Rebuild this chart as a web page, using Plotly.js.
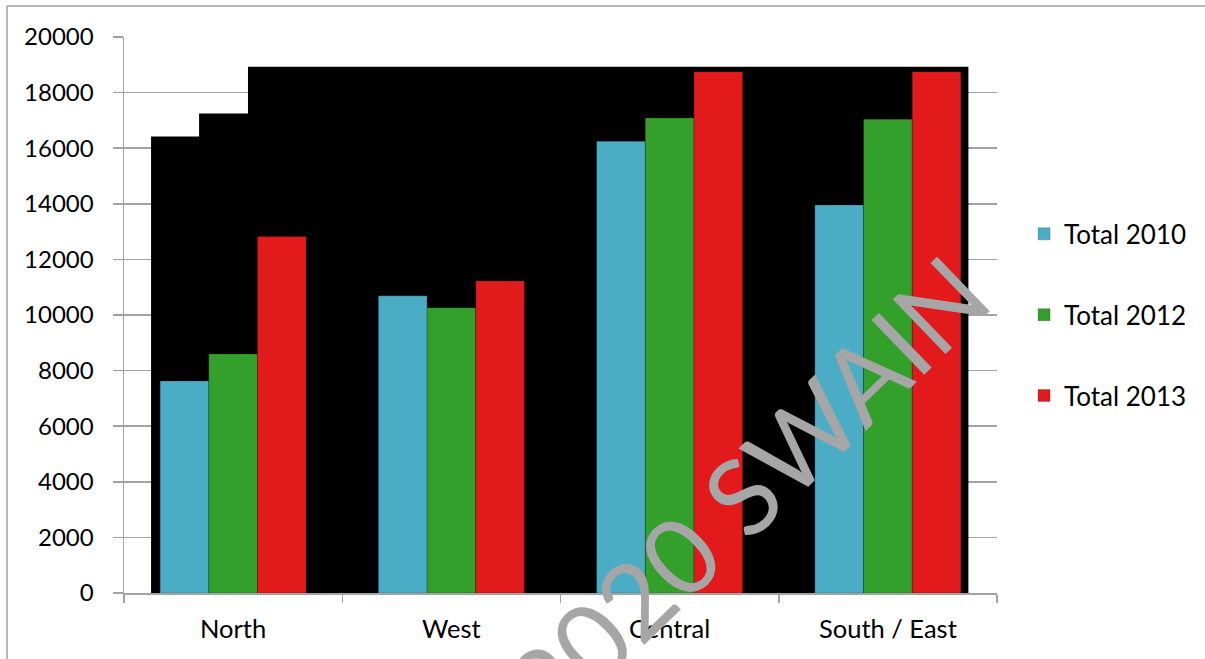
<!DOCTYPE html>
<html>
<head>
<meta charset="utf-8">
<script src="https://cdn.plot.ly/plotly-3.0.1.min.js"></script>
<style>
  html, body { margin: 0; padding: 0; background: #fff; }
  #chart { width: 1205px; height: 659px; }
</style>
</head>
<body>
<div id="chart"></div>
<script>
// Regions and yearly totals
const regions = ['North', 'West', 'Central', 'South / East'];
const total2010 = [7630, 10690, 16250, 13960];
const total2012 = [8600, 10260, 17090, 17040];
const total2013 = [12820, 11220, 18750, 18750];
const seriesNames = ['Total 2010', 'Total 2012', 'Total 2013'];
const seriesColors = ['#4bacc6', '#33a02c', '#e31a1c'];

// Stepped black backdrop behind the bars (edges in region-index units)
const backdropEdges = [-0.376, -0.156, 0.068, 3.369];
const backdropLevels = [16420, 17250, 18930, 18930];

const yTicks = [0, 2000, 4000, 6000, 8000, 10000, 12000, 14000, 16000, 18000, 20000];

const positions = regions.map((_, i) => i);
const boundaries = regions.map((_, i) => i - 0.5).concat([regions.length - 0.5]);
const xRange = [-0.5, regions.length - 0.5];
const yRange = [0, 20000];

const FONT = 'Lato, "Open Sans", sans-serif';
const GRID = '#a3a3a3';

// backdrop sits on the base axes, bars on an overlaid pair so they draw on top
const backdrop = {
  type: 'scatter',
  mode: 'lines',
  x: backdropEdges,
  y: backdropLevels,
  line: { shape: 'hv', width: 0, color: '#000' },
  fill: 'tozeroy',
  fillcolor: '#000',
  showlegend: false,
  hoverinfo: 'skip'
};

const values = [total2010, total2012, total2013];
const bars = values.map((vals, k) => ({
  type: 'bar',
  name: seriesNames[k],
  x: positions,
  y: vals,
  xaxis: 'x2',
  yaxis: 'y2',
  marker: { color: seriesColors[k], line: { color: 'rgba(0,0,0,0.25)', width: 0.8 } },
  legendgroup: 'g' + k
}));

const layout = {
  width: 1205,
  height: 659,
  margin: { l: 124, r: 208, t: 37, b: 66, autoexpand: false },
  paper_bgcolor: '#fff',
  plot_bgcolor: '#fff',
  font: { family: FONT, size: 24, color: '#000' },
  barmode: 'group',
  bargap: 0.331,
  bargroupgap: 0,
  showlegend: true,
  legend: {
    x: 1.031, xanchor: 'left',
    y: 0.688, yanchor: 'top',
    font: { family: FONT, size: 26, color: '#000' },
    traceorder: 'grouped',
    tracegroupgap: 44,
    bgcolor: 'rgba(0,0,0,0)'
  },
  xaxis: {
    type: 'linear',
    range: xRange,
    tickmode: 'array',
    tickvals: positions,
    ticktext: regions,
    tickfont: { family: FONT, size: 25.5, color: '#000' },
    ticks: '',
    showgrid: false,
    zeroline: false,
    showline: true,
    linecolor: GRID,
    linewidth: 1.5,
    ticklabelstandoff: 13,
    minor: {
      tickmode: 'array',
      tickvals: boundaries,
      ticks: 'outside',
      ticklen: 8,
      tickwidth: 1.5,
      tickcolor: GRID,
      showgrid: false
    },
    fixedrange: true
  },
  yaxis: {
    range: yRange,
    tickmode: 'array',
    tickvals: yTicks,
    ticktext: yTicks.map(String),
    ticks: 'outside',
    ticklen: 10,
    tickwidth: 1.5,
    tickcolor: GRID,
    showgrid: true,
    gridcolor: GRID,
    gridwidth: 1.5,
    zeroline: false,
    showline: true,
    linecolor: GRID,
    linewidth: 1.5,
    ticklabelstandoff: 14,
    fixedrange: true
  },
  xaxis2: { overlaying: 'x', range: xRange, visible: false, fixedrange: true },
  yaxis2: { overlaying: 'y', range: yRange, visible: false, fixedrange: true },
  shapes: [
    // outer frame (top and left edges)
    { type: 'line', xref: 'paper', yref: 'paper', x0: -0.134, x1: 1.3, y0: 1.0558, y1: 1.0558,
      line: { color: '#a0a0a0', width: 1.5 } },
    { type: 'line', xref: 'paper', yref: 'paper', x0: -0.134, x1: -0.134, y0: 1.0558, y1: -0.2,
      line: { color: '#a0a0a0', width: 1.5 } }
  ],
  annotations: [
    {
      xref: 'paper', yref: 'paper',
      x: 0.712, y: 0.186,
      xanchor: 'center', yanchor: 'middle',
      text: '2020 SWAIN',
      showarrow: false,
      textangle: -44,
      font: { family: FONT, size: 106, color: '#a6a6a6' }
    }
  ]
};

Plotly.newPlot('chart', [backdrop].concat(bars), layout, { displayModeBar: false, staticPlot: true });
</script>
</body>
</html>
